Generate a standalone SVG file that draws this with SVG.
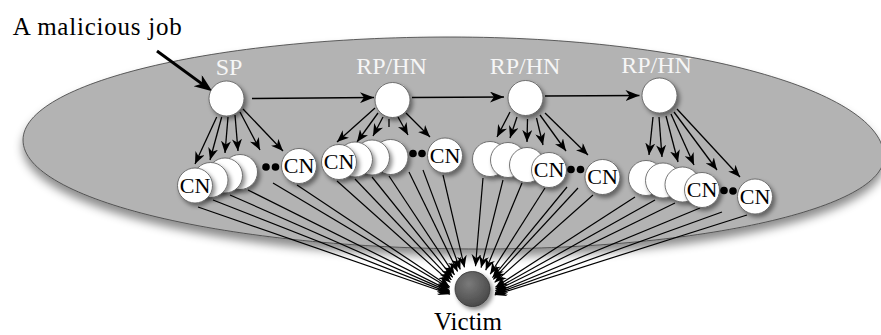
<svg xmlns="http://www.w3.org/2000/svg" width="881" height="335" viewBox="0 0 881 335">
  <style>
    text { font-family: "Liberation Serif", "Times New Roman", serif; }
    .lbl { font-size: 24px; fill: #f6f6f6; text-anchor: middle; }
    .cn { font-size: 22px; fill: #000; text-anchor: middle; }
    .node circle { fill: #fff; stroke: #555; stroke-width: 0.8; filter: url(#sh); }
    .dot { fill: #000; }
    .e { fill: none; stroke: #000; stroke-width: 1.3; marker-end: url(#ah); }
    .t { fill: none; stroke: #000; stroke-width: 1.3; }
    .h { fill: none; stroke: #000; stroke-width: 1.5; marker-end: url(#ahH); }
    .v { fill: none; stroke: #000; stroke-width: 1.2; marker-end: url(#ahV); }
    .m { fill: none; stroke: #000; stroke-width: 3; marker-end: url(#ahM); }
  </style>
  <defs>
    <filter id="sh" x="-30%" y="-30%" width="170%" height="170%">
      <feDropShadow dx="2.5" dy="3" stdDeviation="2" flood-color="#000" flood-opacity="0.45"/>
    </filter>
    <filter id="shE" x="-5%" y="-10%" width="110%" height="140%">
      <feDropShadow dx="0" dy="7" stdDeviation="5" flood-color="#000" flood-opacity="0.45"/>
    </filter>
    <radialGradient id="vg" cx="0.4" cy="0.35" r="0.7">
      <stop offset="0" stop-color="#7a7a7a"/>
      <stop offset="1" stop-color="#474747"/>
    </radialGradient>
    <marker id="ah" viewBox="-12 -5 12 10" refX="0" refY="0" markerWidth="12" markerHeight="10" markerUnits="userSpaceOnUse" orient="auto">
      <path d="M0,0 L-12,-5 L-8.5,0 L-12,5 Z" fill="#000"/>
    </marker>
    <marker id="ahV" viewBox="-12 -5 12 10" refX="0" refY="0" markerWidth="12" markerHeight="10" markerUnits="userSpaceOnUse" orient="auto">
      <path d="M0,0 L-12,-5 L-8,0 L-12,5 Z" fill="#000"/>
    </marker>
    <marker id="ahH" viewBox="-14 -5.5 14 11" refX="0" refY="0" markerWidth="14" markerHeight="11" markerUnits="userSpaceOnUse" orient="auto">
      <path d="M0,0 L-14,-5.5 L-10,0 L-14,5.5 Z" fill="#000"/>
    </marker>
    <marker id="ahM" viewBox="-16 -7 20 14" refX="-4" refY="0" markerWidth="20" markerHeight="14" markerUnits="userSpaceOnUse" orient="auto">
      <path d="M4,0 L-14,-7 L-9,0 L-14,7 Z" fill="#000"/>
    </marker>
  </defs>

  <!-- grid region -->
  <g id="region">
    <path d="M23,140 C23,83 214,37 450,37 C690,37 884,91 884,157 C884,208 703,249 480,249 C228,249 23,200 23,140 Z" fill="#b3b3b3" stroke="#3c3c3c" stroke-width="0.8" filter="url(#shE)"/>
  </g>

  <g id="annotation">
    <text x="12.7" y="35" font-size="25" textLength="169" lengthAdjust="spacing">A malicious job</text>
  </g>

  <g id="connectors">
    <path class="m" d="M157,51 L205.8,86.6"/>
    <!-- job forwarding chain -->
    <path class="h" d="M252,98.5 L374,97.5"/>
    <path class="h" d="M412,97.5 L504,97"/>
    <path class="h" d="M545,96 L639.5,95.5"/>
    <!-- SP to its compute nodes -->
    <path class="e" d="M216.7,117 L195,164"/>
    <path class="e" d="M221.7,117 L210,160"/>
    <path class="e" d="M228,117 L225,153"/>
    <path class="e" d="M235,115 L238,151"/>
    <path class="e" d="M240,112 L260,150"/>
    <path class="e" d="M243,109 L283,151"/>
    <!-- RP/HN 1 -->
    <path class="e" d="M375,108 L337,142"/>
    <path class="e" d="M378,113 L357,142"/>
    <path class="e" d="M383,117 L373,136"/>
    <path class="t" d="M389,119 L389,127"/>
    <path class="e" d="M398,117 L408,135"/>
    <path class="e" d="M406,113 L430,137"/>
    <!-- RP/HN 2 -->
    <path class="e" d="M510,112 L497,137"/>
    <path class="e" d="M517,117 L510,138"/>
    <path class="e" d="M527.5,119 L527,142"/>
    <path class="e" d="M536.5,118 L543,145"/>
    <path class="e" d="M540,115 L566,151"/>
    <path class="e" d="M545,113 L588,155"/>
    <!-- RP/HN 3 -->
    <path class="e" d="M653,117 L649,155"/>
    <path class="e" d="M659,117 L662,157"/>
    <path class="e" d="M666,116 L678,162"/>
    <path class="e" d="M671,114 L694,165"/>
    <path class="e" d="M674,112 L717,170"/>
    <path class="e" d="M677,109 L740,177"/>
    <!-- compute nodes to victim -->
    <path class="v" d="M198,207 L450.1,294.3"/>
    <path class="v" d="M213,200 L449.9,293.1"/>
    <path class="v" d="M230,195 L449.7,291.9"/>
    <path class="v" d="M248,190 L449.6,290.6"/>
    <path class="v" d="M273,183 L449.5,288.3"/>
    <path class="v" d="M297,185 L449.6,286.7"/>
    <path class="v" d="M337,181 L450.5,282.4"/>
    <path class="v" d="M355,179 L451.4,279.9"/>
    <path class="v" d="M372,177 L452.7,277.4"/>
    <path class="v" d="M389,176 L454.5,274.8"/>
    <path class="v" d="M409,172 L457.6,271.5"/>
    <path class="v" d="M423,170 L460.3,269.5"/>
    <path class="v" d="M443,175 L464.5,267.4"/>
    <path class="v" d="M483,178 L475.5,266.2"/>
    <path class="v" d="M503,180 L481.1,267.7"/>
    <path class="v" d="M522,183 L485.7,270.2"/>
    <path class="v" d="M545,188 L490.2,274.2"/>
    <path class="v" d="M567,187 L492.5,277.7"/>
    <path class="v" d="M578,188 L493.4,279.4"/>
    <path class="v" d="M593,195 L494.6,282.4"/>
    <path class="v" d="M635,197 L495.4,287.2"/>
    <path class="v" d="M655,200 L495.5,289.1"/>
    <path class="v" d="M675,203 L495.4,290.8"/>
    <path class="v" d="M700,208 L495.2,292.6"/>
    <path class="v" d="M722,212 L495,293.9"/>
    <path class="v" d="M747,215 L494.7,295"/>
  </g>

  <!-- job chain nodes -->
  <g id="sp" class="node">
    <circle cx="226.5" cy="98.5" r="17.5"/>
    <text class="lbl" x="229" y="75">SP</text>
  </g>
  <g id="rp1" class="node">
    <circle cx="392.5" cy="100" r="17.5"/>
    <text class="lbl" x="391.5" y="74">RP/HN</text>
  </g>
  <g id="rp2" class="node">
    <circle cx="525.5" cy="98" r="17.5"/>
    <text class="lbl" x="525" y="74">RP/HN</text>
  </g>
  <g id="rp3" class="node">
    <circle cx="659.5" cy="95.5" r="17.5"/>
    <text class="lbl" x="656.5" y="73">RP/HN</text>
  </g>

  <!-- compute nodes under SP -->
  <g id="cn1-4" class="node"><circle cx="240" cy="172" r="17.5"/></g>
  <g id="cn1-3" class="node"><circle cx="225" cy="175.5" r="17.5"/></g>
  <g id="cn1-2" class="node"><circle cx="210.5" cy="180" r="17.5"/></g>
  <g id="cn1-1" class="node"><circle cx="195" cy="185.5" r="17.5"/><text class="cn" x="195" y="192.5">CN</text></g>
  <g id="cn1-dots"><circle class="dot" cx="266" cy="167" r="3.8"/><circle class="dot" cx="275.5" cy="167" r="3.8"/></g>
  <g id="cn1-n" class="node"><circle cx="299" cy="166" r="17.5"/><text class="cn" x="299" y="173">CN</text></g>

  <!-- compute nodes under RP/HN 1 -->
  <g id="cn2-4" class="node"><circle cx="390.5" cy="157" r="17.5"/></g>
  <g id="cn2-3" class="node"><circle cx="372" cy="157.5" r="17.5"/></g>
  <g id="cn2-2" class="node"><circle cx="355" cy="159.5" r="17.5"/></g>
  <g id="cn2-1" class="node"><circle cx="339" cy="162" r="17.5"/><text class="cn" x="339" y="169">CN</text></g>
  <g id="cn2-dots"><circle class="dot" cx="413" cy="153.5" r="3.8"/><circle class="dot" cx="422" cy="153.5" r="3.8"/></g>
  <g id="cn2-n" class="node"><circle cx="445" cy="155.5" r="17.5"/><text class="cn" x="445" y="162.5">CN</text></g>

  <!-- compute nodes under RP/HN 2 -->
  <g id="cn3-1" class="node"><circle cx="490" cy="159" r="17.5"/></g>
  <g id="cn3-2" class="node"><circle cx="508" cy="160" r="17.5"/></g>
  <g id="cn3-3" class="node"><circle cx="527" cy="165" r="17.5"/></g>
  <g id="cn3-4" class="node"><circle cx="549" cy="170" r="17.5"/><text class="cn" x="549" y="177">CN</text></g>
  <g id="cn3-dots"><circle class="dot" cx="571" cy="169.5" r="3.8"/><circle class="dot" cx="580.5" cy="169.5" r="3.8"/></g>
  <g id="cn3-n" class="node"><circle cx="602.5" cy="177" r="17.5"/><text class="cn" x="602.5" y="184">CN</text></g>

  <!-- compute nodes under RP/HN 3 -->
  <g id="cn4-1" class="node"><circle cx="646" cy="178" r="17.5"/></g>
  <g id="cn4-2" class="node"><circle cx="663" cy="180.5" r="17.5"/></g>
  <g id="cn4-3" class="node"><circle cx="682.5" cy="184.5" r="17.5"/></g>
  <g id="cn4-4" class="node"><circle cx="702" cy="190" r="17.5"/><text class="cn" x="702" y="197">CN</text></g>
  <g id="cn4-dots"><circle class="dot" cx="724" cy="190.5" r="3.8"/><circle class="dot" cx="733" cy="191" r="3.8"/></g>
  <g id="cn4-n" class="node"><circle cx="755" cy="196.5" r="17.5"/><text class="cn" x="755" y="203.5">CN</text></g>

  <!-- target -->
  <g id="victim">
    <circle cx="472.5" cy="289" r="17.5" fill="url(#vg)" stroke="#333" stroke-width="0.8" filter="url(#sh)"/>
    <text x="468" y="329.5" font-size="25" text-anchor="middle" fill="#000">Victim</text>
  </g>
</svg>
